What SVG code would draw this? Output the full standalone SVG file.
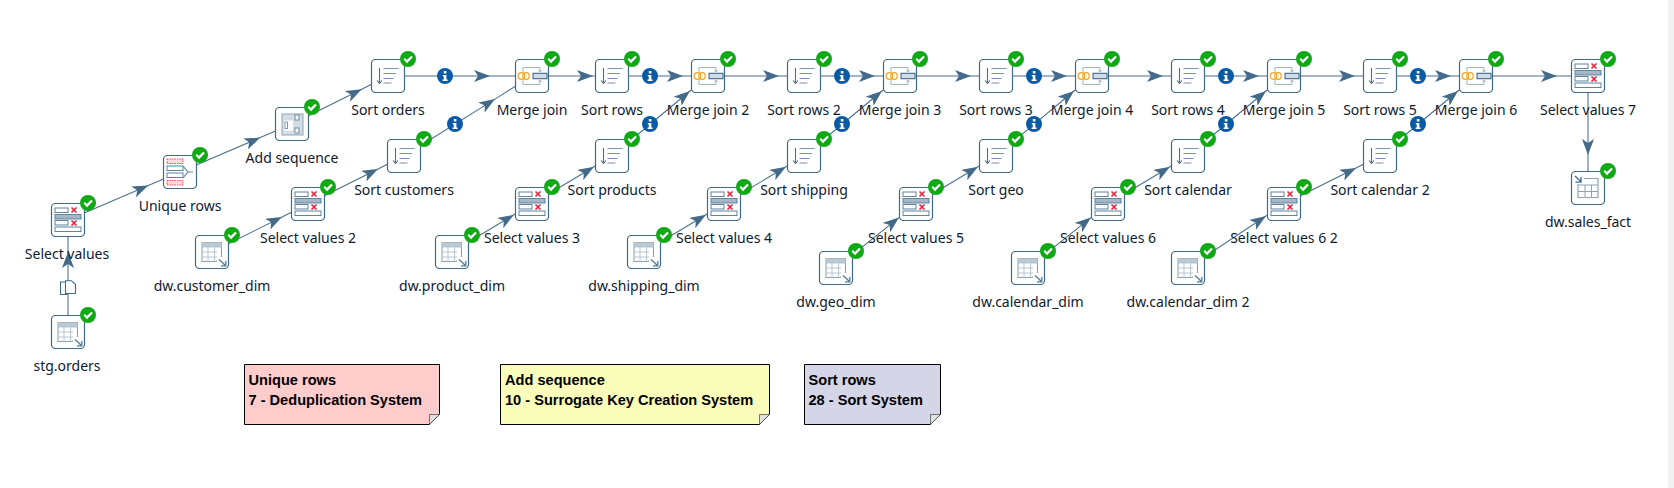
<svg xmlns="http://www.w3.org/2000/svg" width="1674" height="488" viewBox="0 0 1674 488">
<style>
.lb{font-family:"Noto Sans","DejaVu Sans",sans-serif;font-size:14px;fill:#0e1a30;text-anchor:middle}
.nt{font-family:"Liberation Sans",Arial,sans-serif;font-size:14.6px;font-weight:bold;fill:#000}
.hop{fill:none;stroke:#4a6f8c;stroke-width:1.05;marker-mid:url(#ah)}
.fr{fill:#fff;stroke:#3f6a8a;stroke-width:1.2}
.ln{fill:none;stroke:#7694aa;stroke-width:1.2}
.rw{fill:#fff;stroke:#5f83a0;stroke-width:1}
.rg{fill:#a3b8c8;stroke:#5f83a0;stroke-width:1}
.xx{fill:none;stroke:#ee1c3c;stroke-width:1.6}
.note{stroke:#000;stroke-width:1}
.fold{fill:#e2e2e2;stroke:#444;stroke-width:.7}
</style>
<defs>
<marker id="ah" markerUnits="userSpaceOnUse" markerWidth="16" markerHeight="12" refX="16" refY="6" orient="auto" viewBox="0 0 16 12"><path d="M16 6L0 0L4 6L0 12Z" fill="#436a89"/></marker>
<g id="ok"><circle cx="20" cy="-17" r="8" fill="#10a915"/><path d="M16.2 -17.2L19 -14.4L24 -19.6" fill="none" stroke="#fff" stroke-width="2.2"/></g>
<rect id="frame" class="fr" x="-16.5" y="-16.5" width="33" height="33" rx="4"/>
<g id="i-sort"><path d="M-8.5 -8V7M-11 4.5L-8.5 7.5L-6 4.5" fill="none" stroke="#47708f" stroke-width="1.1"/><path class="ln" d="M-4.5 -7.5H10.5M-4.5 -2.5H8M-4.5 2.5H5.5M-4.5 7H3.5"/></g>
<g id="i-sel"><rect class="rw" x="-13" y="-12" width="13" height="4.5"/><rect class="rg" x="-13" y="-5.5" width="26" height="4.5"/><rect class="rw" x="-13" y="0.5" width="13" height="4.5"/><rect class="rw" x="-13" y="7" width="26" height="4.5"/><path class="xx" d="M3.5 -12.5L8.5 -7.5M8.5 -12.5L3.5 -7.5M3.5 0.5L8.5 5.5M8.5 0.5L3.5 5.5"/></g>
<g id="i-uni"><rect x="-13" y="-13" width="16" height="4.5" fill="#fbdcdc" stroke="#ee4b5c" stroke-dasharray="1.5 1"/><rect class="rw" x="-13" y="-6" width="16" height="4.5"/><rect class="rw" x="-13" y="1" width="16" height="4.5"/><rect x="-13" y="8.5" width="16" height="4.5" fill="#fbdcdc" stroke="#ee4b5c" stroke-dasharray="1.5 1"/><path class="ln" d="M3 -6L8 0L3 6M8 0H13"/></g>
<g id="i-seq"><rect x="-10" y="-10" width="21" height="21" fill="#d3dde5" stroke="#8fa5b6"/><rect x="-8" y="-3.5" width="9" height="10" fill="#fff"/><rect x="-7" y="-2" width="2.5" height="6.5" fill="none" stroke="#7d97ab"/><rect x="3" y="-9" width="4" height="5" fill="#fff" stroke="#6d8ca3"/><rect x="3" y="4" width="4" height="5" fill="#fff" stroke="#6d8ca3"/></g>
<g id="i-mrg"><path d="M-9 -4V-8.5H8V-4.5M6.5 -6L8 -4L9.5 -6M-9 4V8.5H8V4.5M6.5 6L8 4L9.5 6" fill="none" stroke="#a3b5c3" stroke-width="1"/><rect x="1" y="-2.7" width="14" height="5.4" fill="#d3dde5" stroke="#3f6a8a" stroke-width="1.1"/><circle cx="-10.5" cy="0" r="3.3" fill="none" stroke="#f5a320" stroke-width="1.2"/><circle cx="-6" cy="0" r="3.3" fill="none" stroke="#f5a320" stroke-width="1.2"/></g>
<g id="i-tin"><path d="M-10 -9.5H9.5V5M-10 -9.5V9.5H5" fill="#fff" stroke="#8fa5b6" stroke-width="1.1"/><rect x="-10" y="-9.5" width="19.5" height="4.5" fill="#bccad5"/><path d="M-10 -5H9M-10 0H5M-10 5H5M-4 -5V9.5M2.5 -5V9.5" fill="none" stroke="#b3c2ce" stroke-width=".9"/><path d="M7 7.5L13.5 13.5M9 13.8H13.8V9" fill="none" stroke="#557a96" stroke-width="1.3"/></g>
<g id="i-tout"><path d="M-4 -9.5H10V9.5H-10V-4" fill="#fff" stroke="#8fa5b6" stroke-width="1.2"/><path d="M-10 -3H10M-10 3.5H10M-3 -3V9.5M3.5 -3V9.5" fill="none" stroke="#8fa5b6" stroke-width="1"/><path d="M-13 -12L-6.5 -6M-7 -11V-5.8H-12.5" fill="none" stroke="#3f6a8a" stroke-width="1.3"/></g>
<g id="info"><circle r="8" fill="#0b5aa6"/><rect x="-1.2" y="-5" width="2.6" height="2.5" fill="#fff"/><path d="M-2.2 -1H1.4V3.4H2.6V5H-2.4V3.4H-1.2V0.6H-2.2Z" fill="#fff"/></g>
</defs>
<rect width="1674" height="488" fill="#fff"/>
<rect x="1668" width="6" height="488" fill="#f0f0f0"/>
<g id="connectors">
<path class="hop" d="M68 332L68 252L68 220"/>
<path class="hop" d="M68 220L148.3 185.6L180 172"/>
<path class="hop" d="M180 172L260.3 137.6L292 124"/>
<path class="hop" d="M292 124L361.7 89.2L388 76"/>
<path class="hop" d="M388 76L490 76L532 76"/>
<path class="hop" d="M532 76L593 76L612 76"/>
<path class="hop" d="M612 76L683 76L708 76"/>
<path class="hop" d="M708 76L779 76L804 76"/>
<path class="hop" d="M804 76L875 76L900 76"/>
<path class="hop" d="M900 76L971 76L996 76"/>
<path class="hop" d="M996 76L1067 76L1092 76"/>
<path class="hop" d="M1092 76L1163 76L1188 76"/>
<path class="hop" d="M1188 76L1259 76L1284 76"/>
<path class="hop" d="M1284 76L1355 76L1380 76"/>
<path class="hop" d="M1380 76L1451 76L1476 76"/>
<path class="hop" d="M1476 76L1557 76L1588 76"/>
<path class="hop" d="M1588 76L1588 155L1588 188"/>
<path class="hop" d="M212 252L282 217L308 204"/>
<path class="hop" d="M308 204L378 169L404 156"/>
<path class="hop" d="M404 156L495 99.1L532 76"/>
<path class="hop" d="M452 252L514 214.8L532 204"/>
<path class="hop" d="M532 204L594 166.8L612 156"/>
<path class="hop" d="M612 156L690 91L708 76"/>
<path class="hop" d="M644 252L706 214.8L724 204"/>
<path class="hop" d="M724 204L786 166.8L804 156"/>
<path class="hop" d="M804 156L882 91L900 76"/>
<path class="hop" d="M836 268L899 217.6L916 204"/>
<path class="hop" d="M916 204L978 166.8L996 156"/>
<path class="hop" d="M996 156L1074 91L1092 76"/>
<path class="hop" d="M1028 268L1091 217.6L1108 204"/>
<path class="hop" d="M1108 204L1170 166.8L1188 156"/>
<path class="hop" d="M1188 156L1266 91L1284 76"/>
<path class="hop" d="M1188 268L1266 216L1284 204"/>
<path class="hop" d="M1284 204L1356 168L1380 156"/>
<path class="hop" d="M1380 156L1458 91L1476 76"/>
<g id="copy-icon"><path d="M60.5 282H67V294.5H60.5Z" fill="#fff" stroke="#3f6a8a" stroke-width="1.1"/><path d="M65.5 280.7H71.5L75.5 284.5V293.5H65.5Z" fill="#fff" stroke="#3f6a8a" stroke-width="1.1"/></g>
<use href="#info" x="445" y="76"/><use href="#info" x="650" y="76"/><use href="#info" x="842" y="76"/><use href="#info" x="1034" y="76"/><use href="#info" x="1226" y="76"/><use href="#info" x="1418" y="76"/>
<use href="#info" x="455" y="124"/><use href="#info" x="650" y="124"/><use href="#info" x="842" y="124"/><use href="#info" x="1034" y="124"/><use href="#info" x="1226" y="124"/><use href="#info" x="1418" y="124"/>
</g>
<g id="stg_orders" transform="translate(68,332)"><use href="#frame"/><use href="#i-tin"/><use href="#ok"/><text class="lb" x="-1" y="39">stg.orders</text></g>
<g id="select_values" transform="translate(68,220)"><use href="#frame"/><use href="#i-sel"/><use href="#ok"/><text class="lb" x="-1" y="39">Select values</text></g>
<g id="unique_rows" transform="translate(180,172)"><use href="#frame"/><use href="#i-uni"/><use href="#ok"/><text class="lb" y="39">Unique rows</text></g>
<g id="add_sequence" transform="translate(292,124)"><use href="#frame"/><use href="#i-seq"/><use href="#ok"/><text class="lb" y="39">Add sequence</text></g>
<g id="sort_orders" transform="translate(388,76)"><use href="#frame"/><use href="#i-sort"/><use href="#ok"/><text class="lb" y="39">Sort orders</text></g>
<g id="merge_join" transform="translate(532,76)"><use href="#frame"/><use href="#i-mrg"/><use href="#ok"/><text class="lb" y="39">Merge join</text></g>
<g id="sort_rows" transform="translate(612,76)"><use href="#frame"/><use href="#i-sort"/><use href="#ok"/><text class="lb" y="39">Sort rows</text></g>
<g id="merge_join_2" transform="translate(708,76)"><use href="#frame"/><use href="#i-mrg"/><use href="#ok"/><text class="lb" y="39">Merge join 2</text></g>
<g id="sort_rows_2" transform="translate(804,76)"><use href="#frame"/><use href="#i-sort"/><use href="#ok"/><text class="lb" y="39">Sort rows 2</text></g>
<g id="merge_join_3" transform="translate(900,76)"><use href="#frame"/><use href="#i-mrg"/><use href="#ok"/><text class="lb" y="39">Merge join 3</text></g>
<g id="sort_rows_3" transform="translate(996,76)"><use href="#frame"/><use href="#i-sort"/><use href="#ok"/><text class="lb" y="39">Sort rows 3</text></g>
<g id="merge_join_4" transform="translate(1092,76)"><use href="#frame"/><use href="#i-mrg"/><use href="#ok"/><text class="lb" y="39">Merge join 4</text></g>
<g id="sort_rows_4" transform="translate(1188,76)"><use href="#frame"/><use href="#i-sort"/><use href="#ok"/><text class="lb" y="39">Sort rows 4</text></g>
<g id="merge_join_5" transform="translate(1284,76)"><use href="#frame"/><use href="#i-mrg"/><use href="#ok"/><text class="lb" y="39">Merge join 5</text></g>
<g id="sort_rows_5" transform="translate(1380,76)"><use href="#frame"/><use href="#i-sort"/><use href="#ok"/><text class="lb" y="39">Sort rows 5</text></g>
<g id="merge_join_6" transform="translate(1476,76)"><use href="#frame"/><use href="#i-mrg"/><use href="#ok"/><text class="lb" y="39">Merge join 6</text></g>
<g id="select_values_7" transform="translate(1588,76)"><use href="#frame"/><use href="#i-sel"/><use href="#ok"/><text class="lb" y="39">Select values 7</text></g>
<g id="sales_fact" transform="translate(1588,188)"><use href="#frame"/><use href="#i-tout"/><use href="#ok"/><text class="lb" y="39">dw.sales_fact</text></g>
<g id="sort_customers" transform="translate(404,156)"><use href="#frame"/><use href="#i-sort"/><use href="#ok"/><text class="lb" y="39">Sort customers</text></g>
<g id="sort_products" transform="translate(612,156)"><use href="#frame"/><use href="#i-sort"/><use href="#ok"/><text class="lb" y="39">Sort products</text></g>
<g id="sort_shipping" transform="translate(804,156)"><use href="#frame"/><use href="#i-sort"/><use href="#ok"/><text class="lb" y="39">Sort shipping</text></g>
<g id="sort_geo" transform="translate(996,156)"><use href="#frame"/><use href="#i-sort"/><use href="#ok"/><text class="lb" y="39">Sort geo</text></g>
<g id="sort_calendar" transform="translate(1188,156)"><use href="#frame"/><use href="#i-sort"/><use href="#ok"/><text class="lb" y="39">Sort calendar</text></g>
<g id="sort_calendar_2" transform="translate(1380,156)"><use href="#frame"/><use href="#i-sort"/><use href="#ok"/><text class="lb" y="39">Sort calendar 2</text></g>
<g id="select_values_2" transform="translate(308,204)"><use href="#frame"/><use href="#i-sel"/><use href="#ok"/><text class="lb" y="39">Select values 2</text></g>
<g id="select_values_3" transform="translate(532,204)"><use href="#frame"/><use href="#i-sel"/><use href="#ok"/><text class="lb" y="39">Select values 3</text></g>
<g id="select_values_4" transform="translate(724,204)"><use href="#frame"/><use href="#i-sel"/><use href="#ok"/><text class="lb" y="39">Select values 4</text></g>
<g id="select_values_5" transform="translate(916,204)"><use href="#frame"/><use href="#i-sel"/><use href="#ok"/><text class="lb" y="39">Select values 5</text></g>
<g id="select_values_6" transform="translate(1108,204)"><use href="#frame"/><use href="#i-sel"/><use href="#ok"/><text class="lb" y="39">Select values 6</text></g>
<g id="select_values_6_2" transform="translate(1284,204)"><use href="#frame"/><use href="#i-sel"/><use href="#ok"/><text class="lb" y="39">Select values 6 2</text></g>
<g id="customer_dim" transform="translate(212,252)"><use href="#frame"/><use href="#i-tin"/><use href="#ok"/><text class="lb" y="39">dw.customer_dim</text></g>
<g id="product_dim" transform="translate(452,252)"><use href="#frame"/><use href="#i-tin"/><use href="#ok"/><text class="lb" y="39">dw.product_dim</text></g>
<g id="shipping_dim" transform="translate(644,252)"><use href="#frame"/><use href="#i-tin"/><use href="#ok"/><text class="lb" y="39">dw.shipping_dim</text></g>
<g id="geo_dim" transform="translate(836,268)"><use href="#frame"/><use href="#i-tin"/><use href="#ok"/><text class="lb" y="39">dw.geo_dim</text></g>
<g id="calendar_dim" transform="translate(1028,268)"><use href="#frame"/><use href="#i-tin"/><use href="#ok"/><text class="lb" y="39">dw.calendar_dim</text></g>
<g id="calendar_dim_2" transform="translate(1188,268)"><use href="#frame"/><use href="#i-tin"/><use href="#ok"/><text class="lb" y="39">dw.calendar_dim 2</text></g>
<g id="note_unique">
<path class="note" fill="#ffcccc" d="M244.5 364.5H439.5V414.5L429.5 424.5H244.5Z"/><path class="fold" d="M439.5 414.5H429.5V424.5Z"/>
<text class="nt" x="248.5" y="385">Unique rows</text><text class="nt" x="248.5" y="404.5">7 - Deduplication System</text></g>
<g id="note_sequence">
<path class="note" fill="#f9fdb9" d="M500.5 364.5H769.5V414.5L759.5 424.5H500.5Z"/><path class="fold" d="M769.5 414.5H759.5V424.5Z"/>
<text class="nt" x="505" y="385">Add sequence</text><text class="nt" x="505" y="404.5">10 - Surrogate Key Creation System</text></g>
<g id="note_sort">
<path class="note" fill="#d4d6e8" d="M804.5 364.5H940.5V414.5L930.5 424.5H804.5Z"/><path class="fold" d="M940.5 414.5H930.5V424.5Z"/>
<text class="nt" x="808.5" y="385">Sort rows</text><text class="nt" x="808.5" y="404.5">28 - Sort System</text></g>
</svg>
